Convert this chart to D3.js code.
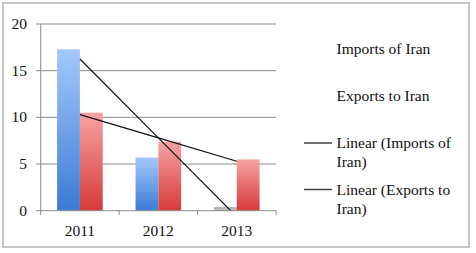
<!DOCTYPE html>
<html>
<head>
<meta charset="utf-8">
<script src="https://cdn.jsdelivr.net/npm/d3@7"></script>
<style>
  body { margin: 0; background: #fff; }
  text { font-family: "Liberation Serif", serif; fill: #111; }
</style>
</head>
<body>
<svg width="476" height="253"></svg>
<script>
const years = ["2011", "2012", "2013"];
const imports = [17.3, 5.7, 0.4];
const exports = [10.5, 7.4, 5.5];
const yTicks = [0, 5, 10, 15, 20];
const legendLabels = ["Imports of Iran", "Exports to Iran", "Linear (Imports of|Iran)", "Linear (Exports to|Iran)"];

const svg = d3.select("svg");

// outer frame
svg.append("rect")
  .attr("x", 3).attr("y", 3)
  .attr("width", 466).attr("height", 244)
  .attr("fill", "#fff")
  .attr("stroke", "#b3b3b3")
  .attr("stroke-width", 1.5);

const defs = svg.append("defs");
function grad(id, top, bottom) {
  const g = defs.append("linearGradient").attr("id", id)
    .attr("x1", 0).attr("y1", 0).attr("x2", 0).attr("y2", 1);
  g.append("stop").attr("offset", "0%").attr("stop-color", top);
  g.append("stop").attr("offset", "100%").attr("stop-color", bottom);
}
grad("gBlue", "#a5c8fb", "#3a7bd5");
grad("gRed", "#f7a3a3", "#d63a3a");

const x = d3.scaleBand().domain(years).range([40.7, 276]);
const y = d3.scaleLinear().domain([0, 20]).range([210.7, 24]);
const inner = d3.scaleBand().domain(["imp", "exp"]).range([0, x.bandwidth()]).paddingOuter(0.72).paddingInner(0);

// gridlines
svg.append("g")
  .selectAll("line")
  .data(yTicks.slice(1))
  .join("line")
  .attr("x1", 40.7).attr("x2", 276)
  .attr("y1", d => y(d)).attr("y2", d => y(d))
  .attr("stroke", "#8a8a8a").attr("stroke-width", 1);

// bars
const groups = svg.append("g")
  .selectAll("g")
  .data(years)
  .join("g")
  .attr("transform", d => `translate(${x(d)},0)`);

groups.append("rect")
  .attr("x", inner("imp"))
  .attr("width", inner.bandwidth())
  .attr("y", (d, i) => y(imports[i]))
  .attr("height", (d, i) => y(0) - y(imports[i]))
  .attr("fill", (d, i) => imports[i] < 1 ? "#b8b8b8" : "url(#gBlue)");

groups.append("rect")
  .attr("x", inner("exp"))
  .attr("width", inner.bandwidth())
  .attr("y", (d, i) => y(exports[i]))
  .attr("height", (d, i) => y(0) - y(exports[i]))
  .attr("fill", "url(#gRed)");

// linear trendlines
function trend(vals) {
  const xs = vals.map((v, i) => i + 1);
  const mx = d3.mean(xs), my = d3.mean(vals);
  const slope = d3.sum(xs, (xi, i) => (xi - mx) * (vals[i] - my)) / d3.sum(xs, xi => (xi - mx) ** 2);
  return xs.map(xi => my + slope * (xi - mx));
}
defs.append("clipPath").attr("id", "plotClip")
  .append("rect").attr("x", 40.7).attr("y", 24).attr("width", 235.3).attr("height", 186.7);

const cx = d => x(d) + x.bandwidth() / 2;
const line = d3.line().x(d => cx(d.year)).y(d => y(d.v));
[trend(imports), trend(exports)].forEach(t => {
  svg.append("path")
    .attr("clip-path", "url(#plotClip)")
    .attr("d", line(years.map((yr, i) => ({ year: yr, v: t[i] }))))
    .attr("fill", "none")
    .attr("stroke", "#111")
    .attr("stroke-width", 1.2);
});

// axes
svg.append("line")
  .attr("x1", 40.7).attr("x2", 40.7).attr("y1", 24).attr("y2", 210.7)
  .attr("stroke", "#8a8a8a");
svg.append("line")
  .attr("x1", 40.7).attr("x2", 276).attr("y1", 210.7).attr("y2", 210.7)
  .attr("stroke", "#8a8a8a");

svg.append("g")
  .selectAll("line")
  .data(yTicks)
  .join("line")
  .attr("x1", 36).attr("x2", 40.7)
  .attr("y1", d => y(d)).attr("y2", d => y(d))
  .attr("stroke", "#8a8a8a");

svg.append("g")
  .selectAll("line")
  .data(years.map(yr => x(yr)).concat([276]))
  .join("line")
  .attr("x1", d => d).attr("x2", d => d)
  .attr("y1", 210.7).attr("y2", 215)
  .attr("stroke", "#8a8a8a");

svg.append("g")
  .selectAll("text")
  .data(yTicks)
  .join("text")
  .attr("x", 27).attr("y", d => y(d) + 5)
  .attr("text-anchor", "end")
  .attr("font-size", 15.5)
  .text(d => d);

svg.append("g")
  .selectAll("text")
  .data(years)
  .join("text")
  .attr("x", d => cx(d)).attr("y", 236)
  .attr("text-anchor", "middle")
  .attr("font-size", 15.5)
  .text(d => d);

// legend
const legendY = [49, 96, 143, 189.5];
legendLabels.forEach((lab, i) => {
  const parts = lab.split("|");
  const t = svg.append("text")
    .attr("x", 336.5).attr("y", legendY[i] + 5)
    .attr("font-size", 15.5);
  parts.forEach((p, j) => {
    t.append("tspan").attr("x", 336.5).attr("dy", j === 0 ? 0 : 19).text(p);
  });
  if (i >= 2) {
    svg.append("line")
      .attr("x1", 304).attr("x2", 332)
      .attr("y1", legendY[i]).attr("y2", legendY[i])
      .attr("stroke", "#444").attr("stroke-width", 1.5);
  }
});
</script>
</body>
</html>
